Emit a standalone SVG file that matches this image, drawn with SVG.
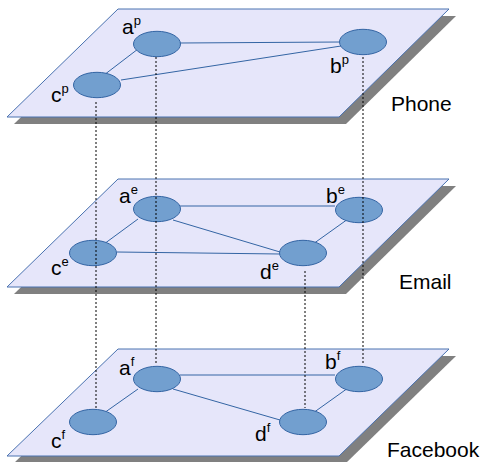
<svg xmlns="http://www.w3.org/2000/svg" width="483" height="462" viewBox="0 0 483 462">
<style>
.plane{fill:#e6e6fa;stroke:#4a72b0;stroke-width:1}
.shadow{fill:#808080;stroke:none}
.node{fill:#729fcf;stroke:#3465a4;stroke-width:1}
.edge{stroke:#3465a4;stroke-width:1;fill:none}
.dot{stroke:#000;stroke-width:1;stroke-dasharray:2,2;fill:none}
text{font-family:"Liberation Sans",Arial,sans-serif;font-size:21px;fill:#000}
.sup{font-size:13px}
</style>
<g id="layer-phone">
<polygon class="shadow" points="125,16 456,16 346,124 14,124"/>
<polygon class="plane" points="118,9 449,9 339,117 7,117"/>
<text x="391" y="111">Phone</text>
</g>
<g id="layer-email">
<polygon class="shadow" points="125,186 456,186 346,294 14,294"/>
<polygon class="plane" points="118,179 449,179 339,287 7,287"/>
<text x="399" y="289">Email</text>
</g>
<g id="layer-facebook">
<polygon class="shadow" points="125,356 456,356 346,463 14,463"/>
<polygon class="plane" points="118,349 449,349 339,456 7,456"/>
<text x="387" y="457">Facebook</text>
</g>
<g id="connectors">
<line class="edge" x1="180" y1="43" x2="340" y2="42"/>
<line class="edge" x1="121" y1="80" x2="341" y2="46"/>
<line class="edge" x1="138" y1="49" x2="104" y2="75"/>
<line class="edge" x1="180" y1="206" x2="335" y2="206"/>
<line class="edge" x1="173" y1="220" x2="280" y2="252"/>
<line class="edge" x1="117" y1="252" x2="280" y2="254"/>
<line class="edge" x1="138" y1="219" x2="104" y2="244"/>
<line class="edge" x1="348" y1="219" x2="313" y2="244"/>
<line class="edge" x1="180" y1="375" x2="335" y2="375"/>
<line class="edge" x1="173" y1="389" x2="280" y2="420"/>
<line class="edge" x1="138" y1="389" x2="104" y2="413"/>
<line class="edge" x1="348" y1="388" x2="313" y2="413"/>
</g>
<g id="node-ap"><ellipse class="node" cx="157" cy="44" rx="23.5" ry="12.7"/><text x="122" y="34">a<tspan class="sup" dy="-9">p</tspan></text></g>
<g id="node-bp"><ellipse class="node" cx="363" cy="42" rx="23.5" ry="12.7"/><text x="330" y="73">b<tspan class="sup" dy="-9">p</tspan></text></g>
<g id="node-cp"><ellipse class="node" cx="97" cy="85" rx="23.5" ry="12.7"/><text x="51" y="102">c<tspan class="sup" dy="-9">p</tspan></text></g>
<g id="node-ae"><ellipse class="node" cx="157" cy="209" rx="23.5" ry="12.7"/><text x="119" y="203">a<tspan class="sup" dy="-9">e</tspan></text></g>
<g id="node-be"><ellipse class="node" cx="359" cy="210" rx="23.5" ry="12.7"/><text x="326" y="203">b<tspan class="sup" dy="-9">e</tspan></text></g>
<g id="node-ce"><ellipse class="node" cx="93" cy="253" rx="23.5" ry="12.7"/><text x="51" y="275">c<tspan class="sup" dy="-9">e</tspan></text></g>
<g id="node-de"><ellipse class="node" cx="303" cy="253" rx="23.5" ry="12.7"/><text x="260" y="279">d<tspan class="sup" dy="-9">e</tspan></text></g>
<g id="node-af"><ellipse class="node" cx="157" cy="379" rx="23.5" ry="12.7"/><text x="119" y="375">a<tspan class="sup" dy="-9">f</tspan></text></g>
<g id="node-bf"><ellipse class="node" cx="359" cy="379" rx="23.5" ry="12.7"/><text x="325" y="369">b<tspan class="sup" dy="-9">f</tspan></text></g>
<g id="node-cf"><ellipse class="node" cx="93" cy="422" rx="23.5" ry="12.7"/><text x="51" y="448">c<tspan class="sup" dy="-9">f</tspan></text></g>
<g id="node-df"><ellipse class="node" cx="303" cy="422" rx="23.5" ry="12.7"/><text x="255" y="441">d<tspan class="sup" dy="-9">f</tspan></text></g>
<g id="interlayer">
<line class="dot" x1="96" y1="102" x2="96" y2="408"/>
<line class="dot" x1="156" y1="57" x2="156" y2="365"/>
<line class="dot" x1="363" y1="57" x2="363" y2="365"/>
<line class="dot" x1="305" y1="271" x2="305" y2="408"/>
</g>
</svg>
